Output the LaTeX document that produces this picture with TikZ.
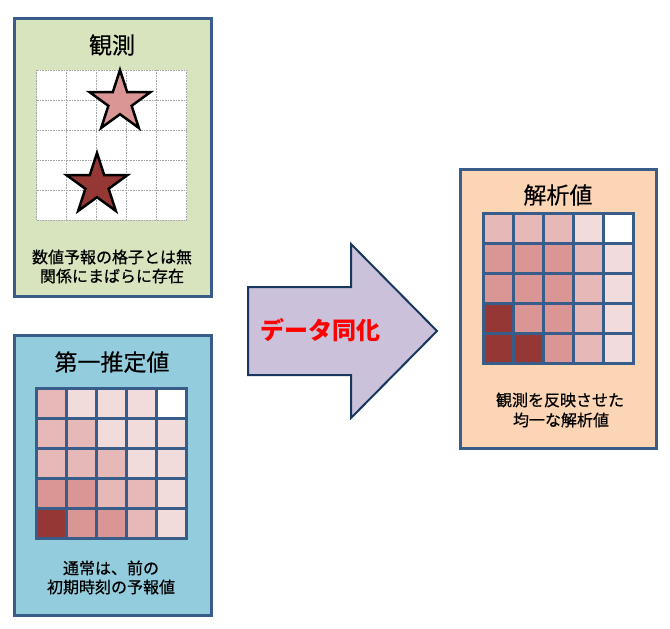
\documentclass[tikz,border=0pt]{standalone}
\usepackage{fontspec}
\setmainfont{Noto Sans CJK JP}
\newfontfamily\jpheavy[FakeBold=0.6]{Noto Sans CJK JP}
\newfontfamily\jpmid[FakeBold=0.35]{Noto Sans CJK JP}
\usetikzlibrary{shapes.geometric}
\definecolor{frameblue}{HTML}{385D8A}
\definecolor{obsfill}{HTML}{D7E4BD}
\definecolor{fgfill}{HTML}{93CDDD}
\definecolor{anfill}{HTML}{FCD5B5}
\definecolor{arrowfill}{HTML}{CCC1DA}
\definecolor{arrowline}{HTML}{17375E}
\definecolor{cA}{HTML}{F2DCDB}
\definecolor{cB}{HTML}{E6B9B8}
\definecolor{cC}{HTML}{D99694}
\definecolor{cD}{HTML}{953735}
\definecolor{cW}{HTML}{FFFFFF}
\definecolor{obsgrid}{HTML}{A6A6A6}
\begin{document}
\begin{tikzpicture}[x=1pt,y=-1pt,
  panel/.style={draw=frameblue, line width=3pt, inner sep=0pt, outer sep=0pt},
  title/.style={font=\jpmid\fontsize{23}{27}\selectfont, inner sep=0pt},
  body/.style={font=\jpheavy\fontsize{16}{20}\selectfont, inner sep=0pt, align=center},
  gl/.style={draw=frameblue, line width=3pt},
  og/.style={draw=obsgrid, line width=1pt, dash pattern=on 1pt off 0.6pt},
  starshape/.style={star, star points=5, star point ratio=2.618, minimum size=64pt,
    inner sep=0pt, draw=black, line width=2.5pt, miter limit=10},
  arrowst/.style={draw=arrowline, line width=2pt, fill=arrowfill, line join=miter}]
\useasboundingbox (0,0) rectangle (670,629);

% panels
\node[panel, fill=obsfill, minimum width=196.5pt, minimum height=278.5pt] (obs) at (112.75,157.25) {};
\node[panel, fill=fgfill, minimum width=196.8pt, minimum height=280pt] (fg) at (112.9,475) {};
\node[panel, fill=anfill, minimum width=196.3pt, minimum height=279.3pt] (an) at (558.15,308.65) {};

% titles
\node[title] (obsT) at (112,45) {観測};
\node[title] (fgT) at (112,362) {第一推定値};
\node[title] (anT) at (558,195) {解析値};

% observation grid
\fill[white] (36.7,70) rectangle (186.7,220);
\foreach \i in {0,...,5} {
  \draw[og] (36.7+30*\i,70) -- (36.7+30*\i,220);
  \draw[og] (36.7,70+30*\i) -- (186.7,70+30*\i);
}
\node[starshape, fill=cC] (star1) at (120,102) {};
\node[starshape, fill=cD] (star2) at (97,185) {};

% first guess cells
\foreach \row [count=\r from 0] in {{B,A,A,A,W},{B,B,A,A,A},{B,B,B,A,A},{C,C,B,B,A},{D,C,C,B,A}} {
  \foreach \c [count=\k from 0] in \row {
    \fill[c\c] (36.5+30*\k,388+30*\r) rectangle ++(30,30);
  }
}
\foreach \i in {1,...,4} {
  \draw[gl] (36.5+30*\i,388) -- ++(0,150);
  \draw[gl] (36.5,388+30*\i) -- ++(150,0);
}
\draw[gl] (36.5,388) rectangle (186.5,538);

% analysis cells
\foreach \row [count=\r from 0] in {{B,B,B,A,W},{C,C,C,B,A},{C,C,C,B,A},{D,C,C,B,A},{D,D,C,B,A}} {
  \foreach \c [count=\k from 0] in \row {
    \fill[c\c] (483+30*\k,213+30*\r) rectangle ++(30,30);
  }
}
\foreach \i in {1,...,4} {
  \draw[gl] (483+30*\i,213) -- ++(0,150);
  \draw[gl] (483,213+30*\i) -- ++(150,0);
}
\draw[gl] (483,213) rectangle (633,363);

% body texts
\node[body] (obsB1) at (112,257) {数値予報の格子とは無};
\node[body] (obsB2) at (112,276) {関係にまばらに存在};
\node[body] (fgB1) at (111,568) {通常は、前の};
\node[body] (fgB2) at (111,587) {初期時刻の予報値};
\node[body] (anB1) at (560,400) {観測を反映させた};
\node[body] (anB2) at (561,420) {均一な解析値};

% big arrow
\draw[arrowst] (248,287) -- (351,287) -- (351,244) -- (437,331) -- (351,418) -- (351,375) -- (248,375) -- cycle;
\node[font=\fontsize{24}{28}\selectfont\bfseries, text=red, inner sep=0pt] (da) at (320,330) {データ同化};
\end{tikzpicture}
\end{document}
